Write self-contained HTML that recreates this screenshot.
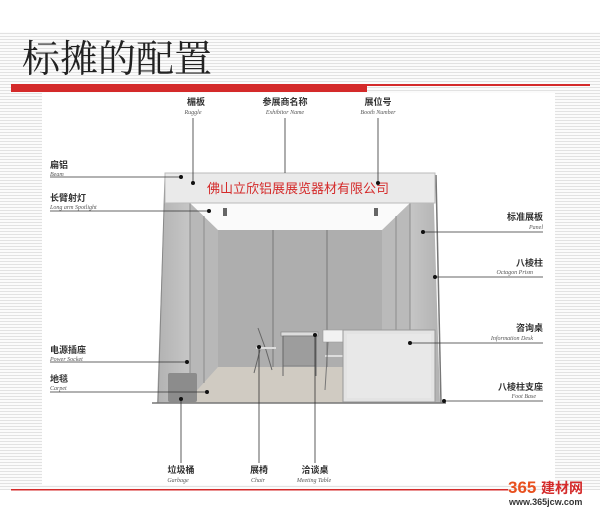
<!DOCTYPE html>
<html><head><meta charset="utf-8"><style>
html,body{margin:0;padding:0;background:#fff;width:600px;height:508px;overflow:hidden}
svg{display:block}
.cn{font-family:"Liberation Sans","Noto Sans CJK SC",sans-serif;font-size:9px;fill:#333;font-weight:bold}
.en{font-family:"Liberation Serif",serif;font-style:italic;font-size:6px;fill:#555}
</style></head><body>
<svg width="600" height="508" viewBox="0 0 600 508" xmlns="http://www.w3.org/2000/svg">
<defs>
<pattern id="st" width="4" height="3" patternUnits="userSpaceOnUse"><rect width="4" height="3" fill="#fbfbfb"/><rect width="4" height="1" fill="#e2e2e2"/></pattern>
<linearGradient id="wl" x1="0" x2="1"><stop offset="0" stop-color="#b2b2b2"/><stop offset="1" stop-color="#c6c6c6"/></linearGradient>
<linearGradient id="wr" x1="0" x2="1"><stop offset="0" stop-color="#c6c6c6"/><stop offset="1" stop-color="#b2b2b2"/></linearGradient>
</defs>
<rect x="0" y="32" width="600" height="458" fill="url(#st)"/>
<rect x="42" y="93" width="513" height="392" fill="#fff"/>
<text x="22" y="72" font-family="'Liberation Serif','Noto Serif CJK SC',serif" font-size="38" fill="#222">标摊的配置</text>
<rect x="11" y="84" width="356" height="8" fill="#d42a2a"/>
<rect x="367" y="84" width="223" height="2" fill="#d42a2a"/>
<polygon points="190,203 410,203 382,230 218,230" fill="#fafafa"/>
<rect x="218" y="230" width="164" height="137" fill="#aeaeae"/>
<line x1="273" y1="230" x2="273" y2="367" stroke="#8a8a8a" stroke-width="1.5"/>
<line x1="327" y1="230" x2="327" y2="367" stroke="#8a8a8a" stroke-width="1.5"/>
<polygon points="218,367 382,367 440,403 155,403" fill="#d0cbc2"/>
<polygon points="165,175 190,175 190,403 157,403" fill="url(#wl)"/>
<polygon points="190,203 218,230 218,367 190,398" fill="#b8b8b8"/>
<line x1="204" y1="216" x2="204" y2="383" stroke="#8c8c8c"/>
<line x1="190" y1="203" x2="190" y2="400" stroke="#8c8c8c"/>
<polygon points="410,203 382,230 382,367 410,398" fill="#bababa"/>
<line x1="396" y1="216" x2="396" y2="383" stroke="#8c8c8c"/>
<polygon points="410,175 433,175 440,403 410,403" fill="url(#wr)"/>
<line x1="410" y1="203" x2="410" y2="400" stroke="#8c8c8c"/>
<line x1="436" y1="175" x2="441" y2="403" stroke="#777" stroke-width="1.5"/>
<line x1="165" y1="175" x2="158" y2="403" stroke="#888"/>
<rect x="165" y="173" width="270" height="30" fill="#eaeaea" stroke="#bbb"/>
<text x="298" y="193" text-anchor="middle" font-family="'Liberation Sans','Noto Sans CJK SC',sans-serif" font-size="13" fill="#d42a2a">佛山立欣铝展展览器材有限公司</text>
<line x1="152" y1="403" x2="446" y2="403" stroke="#777" stroke-width="1.5"/>
<rect x="223" y="208" width="4" height="8" fill="#666"/><rect x="374" y="208" width="4" height="8" fill="#666"/>
<rect x="281" y="332" width="37" height="4" fill="#ddd" stroke="#888" stroke-width="0.7"/>
<rect x="283" y="336" width="33" height="30" fill="#9d9d9d" stroke="#777" stroke-width="0.7"/>
<line x1="283" y1="336" x2="283" y2="376" stroke="#666"/><line x1="316" y1="336" x2="316" y2="376" stroke="#666"/>
<polyline points="258,328 266,350 272,370" fill="none" stroke="#666"/>
<line x1="256" y1="348" x2="276" y2="348" stroke="#ddd" stroke-width="2"/>
<line x1="260" y1="350" x2="254" y2="373" stroke="#666"/>
<rect x="323" y="330" width="22" height="12" fill="#f2f2f2" stroke="#999" stroke-width="0.6"/>
<line x1="325" y1="356" x2="345" y2="356" stroke="#ddd" stroke-width="2"/>
<line x1="328" y1="342" x2="325" y2="390" stroke="#777"/>
<rect x="343" y="330" width="92" height="72" fill="#e3e3e3" stroke="#999"/>
<rect x="347" y="334" width="84" height="64" fill="#e8e8e8"/>
<rect x="168" y="373" width="29" height="29" fill="#8c8c8c" rx="2"/>
<g stroke="#333" stroke-width="0.8" fill="none">
<line x1="193" y1="118" x2="193" y2="183"/>
<line x1="285" y1="118" x2="285" y2="173"/>
<line x1="378" y1="118" x2="378" y2="183"/>
<line x1="50" y1="177" x2="181" y2="177"/>
<line x1="50" y1="211" x2="209" y2="211"/>
<line x1="423" y1="232" x2="543" y2="232"/>
<line x1="435" y1="277" x2="543" y2="277"/>
<line x1="410" y1="343" x2="543" y2="343"/>
<line x1="444" y1="401" x2="543" y2="401"/>
<line x1="50" y1="362" x2="187" y2="362"/>
<line x1="50" y1="392" x2="207" y2="392"/>
<line x1="181" y1="399" x2="181" y2="463"/>
<line x1="259" y1="347" x2="259" y2="463"/>
<line x1="315" y1="335" x2="315" y2="463"/>
</g>
<g fill="#111">
<circle cx="193" cy="183" r="2"/><circle cx="378" cy="183" r="2"/><circle cx="181" cy="177" r="2"/>
<circle cx="209" cy="211" r="2"/><circle cx="423" cy="232" r="2"/><circle cx="435" cy="277" r="2"/>
<circle cx="410" cy="343" r="2"/><circle cx="444" cy="401" r="2"/><circle cx="187" cy="362" r="2"/>
<circle cx="207" cy="392" r="2"/><circle cx="181" cy="399" r="2"/><circle cx="259" cy="347" r="2"/><circle cx="315" cy="335" r="2"/>
</g>
<g text-anchor="middle">
<text class="cn" x="196" y="105">楣板</text><text class="en" x="193" y="114">Ruggle</text>
<text class="cn" x="285" y="105">参展商名称</text><text class="en" x="285" y="114">Exhibitor Name</text>
<text class="cn" x="378" y="105">展位号</text><text class="en" x="378" y="114">Booth Number</text>
<text class="cn" x="181" y="473">垃圾桶</text><text class="en" x="178" y="482">Garbage</text>
<text class="cn" x="259" y="473">展椅</text><text class="en" x="258" y="482">Chair</text>
<text class="cn" x="315" y="473">洽谈桌</text><text class="en" x="314" y="482">Meeting Table</text>
</g>
<text class="cn" x="50" y="168">扁铝</text><text class="en" x="50" y="176">Beam</text>
<text class="cn" x="50" y="201">长臂射灯</text><text class="en" x="50" y="209">Long arm Spotlight</text>
<text class="cn" x="50" y="353">电源插座</text><text class="en" x="50" y="361">Power Socket</text>
<text class="cn" x="50" y="382">地毯</text><text class="en" x="50" y="390">Carpet</text>
<g text-anchor="end">
<text class="cn" x="543" y="220">标准展板</text><text class="en" x="543" y="229">Panel</text>
<text class="cn" x="543" y="266">八棱柱</text><text class="en" x="533" y="274">Octagon Prism</text>
<text class="cn" x="543" y="331">咨询桌</text><text class="en" x="533" y="340">Information Desk</text>
<text class="cn" x="543" y="390">八棱柱支座</text><text class="en" x="536" y="398">Foot Base</text>
</g>
<rect x="11" y="489" width="497" height="1.5" fill="#d42a2a"/>
<text x="508" y="493" font-family="'Liberation Sans','Noto Sans CJK SC',sans-serif" font-size="17" font-weight="bold" fill="#e8501e">365</text>
<text x="541" y="493" font-family="'Liberation Sans','Noto Sans CJK SC',sans-serif" font-size="14" font-weight="bold" fill="#d42a2a">建材网</text>
<text x="509" y="505" font-family="'Liberation Sans',sans-serif" font-size="9" font-weight="bold" fill="#333">www.365jcw.com</text>
</svg>
</body></html>
